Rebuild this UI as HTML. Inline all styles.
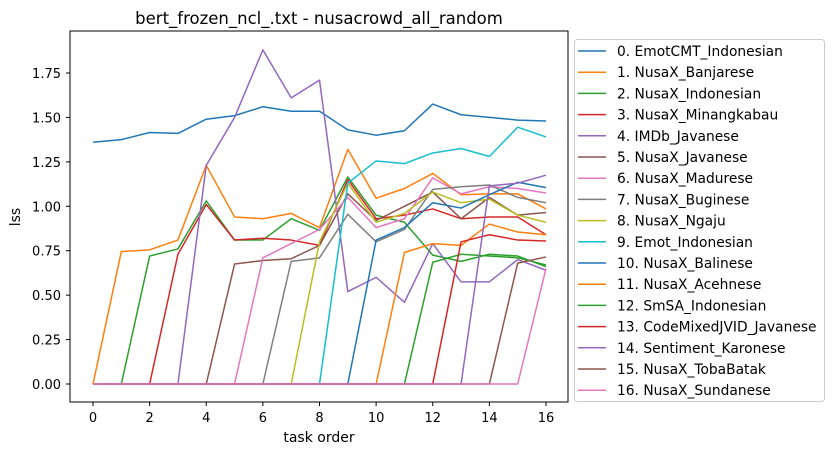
<!DOCTYPE html>
<html><head><meta charset="utf-8"><style>
body{margin:0;background:#fff;font-family:"DejaVu Sans","Liberation Sans",sans-serif;}
svg text{font-family:"DejaVu Sans","Liberation Sans",sans-serif;}
</style></head><body>
<svg id="chart" width="833" height="455">
<rect x="0" y="0" width="833" height="455" fill="#fff"/>
<g id="plot"></g>
</svg>
<script>
const taskOrder=[0,1,2,3,4,5,6,7,8,9,10,11,12,13,14,15,16];
const seriesNames=["0. EmotCMT_Indonesian","1. NusaX_Banjarese","2. NusaX_Indonesian","3. NusaX_Minangkabau","4. IMDb_Javanese","5. NusaX_Javanese","6. NusaX_Madurese","7. NusaX_Buginese","8. NusaX_Ngaju","9. Emot_Indonesian","10. NusaX_Balinese","11. NusaX_Acehnese","12. SmSA_Indonesian","13. CodeMixedJVID_Javanese","14. Sentiment_Karonese","15. NusaX_TobaBatak","16. NusaX_Sundanese"];
const s0=[1.36,1.375,1.415,1.41,1.49,1.51,1.56,1.535,1.535,1.43,1.40,1.425,1.575,1.515,1.50,1.485,1.48];
const s1=[0,0.745,0.755,0.81,1.23,0.94,0.93,0.96,0.88,1.32,1.045,1.10,1.185,1.065,1.07,1.07,0.985];
const s2=[0,0,0.72,0.76,1.03,0.81,0.81,0.93,0.865,1.165,0.95,0.91,0.725,0.69,0.73,0.72,0.66];
const s3=[0,0,0,0.73,1.01,0.81,0.82,0.81,0.78,1.15,0.93,0.95,0.985,0.93,0.94,0.94,0.84];
const s4=[0,0,0,0,1.23,1.5,1.88,1.61,1.71,0.52,0.60,0.46,0.79,0.575,0.575,0.70,0.64];
const s5=[0,0,0,0,0,0.675,0.695,0.705,0.78,1.07,0.92,1.0,1.08,0.93,1.05,0.95,0.965];
const s6=[0,0,0,0,0,0,0.71,0.79,0.87,1.05,0.88,0.93,1.16,1.07,1.11,1.10,1.075];
const s7=[0,0,0,0,0,0,0,0.69,0.71,0.955,0.80,0.87,1.095,1.11,1.12,1.05,1.02];
const s8=[0,0,0,0,0,0,0,0,0.80,1.13,0.91,0.96,1.08,1.02,1.04,0.95,0.91];
const s9=[0,0,0,0,0,0,0,0,0,1.13,1.255,1.24,1.30,1.325,1.28,1.445,1.39];
const s10=[0,0,0,0,0,0,0,0,0,0,0.81,0.88,1.02,0.99,1.065,1.135,1.105];
const s11=[0,0,0,0,0,0,0,0,0,0,0,0.74,0.79,0.78,0.90,0.855,0.84];
const s12=[0,0,0,0,0,0,0,0,0,0,0,0,0.685,0.73,0.72,0.71,0.67];
const s13=[0,0,0,0,0,0,0,0,0,0,0,0,0,0.80,0.84,0.81,0.805];
const s14=[0,0,0,0,0,0,0,0,0,0,0,0,0,0,1.115,1.13,1.175];
const s15=[0,0,0,0,0,0,0,0,0,0,0,0,0,0,0,0.68,0.715];
const s16=[0,0,0,0,0,0,0,0,0,0,0,0,0,0,0,0,0.65];
const xTicks=[0,2,4,6,8,10,12,14,16];
const yTicks=[0,0.25,0.5,0.75,1.0,1.25,1.5,1.75];
const allSeries=[s0,s1,s2,s3,s4,s5,s6,s7,s8,s9,s10,s11,s12,s13,s14,s15,s16];
const colors=["#1f77b4","#ff7f0e","#2ca02c","#d62728","#9467bd","#8c564b","#e377c2","#7f7f7f","#bcbd22","#17becf"];
const L=70,R=568,T=31,B=402;
function xs(v){return 93+v*(546-93)/16;}
function ys(v){return 384-v*(384-73)/1.75;}
const NS="http://www.w3.org/2000/svg";
const g=document.getElementById('plot');
function mk(tag,attrs,parent){const e=document.createElementNS(NS,tag);for(const k in attrs)e.setAttribute(k,attrs[k]);(parent||g).appendChild(e);return e;}
allSeries.forEach((s,i)=>{
  const p=mk('polyline',{points:s.map((v,j)=>xs(taskOrder[j])+','+ys(v)).join(' '),fill:'none',stroke:colors[i%10],'stroke-width':1.5,'stroke-linejoin':'round'});
  
  
});
const fr=mk('rect',{x:L,y:T,width:R-L,height:B-T,fill:'none',stroke:'#000','stroke-width':1});


xTicks.forEach(t=>{
  const x=xs(t);
  mk('line',{x1:x,x2:x,y1:B,y2:B+4,stroke:'#000'});
  const tx=mk('text',{x:x,y:B+20,'text-anchor':'middle','font-size':13});
  tx.textContent=t;
  
  
});
yTicks.forEach(t=>{
  const y=ys(t);
  mk('line',{x1:L-4,x2:L,y1:y,y2:y,stroke:'#000'});
  const tx=mk('text',{x:L-9,y:y+5,'text-anchor':'end','font-size':13});
  tx.textContent=t.toFixed(2);
  
  
});
const xt=mk('text',{x:319,y:442,'text-anchor':'middle','font-size':14});
xt.textContent='task order';


const yt=mk('text',{x:20,y:217,'text-anchor':'middle','font-size':14,transform:'rotate(-90 20 217)'});
yt.textContent='lss';


const ti=mk('text',{x:319,y:24,'text-anchor':'middle','font-size':16.5});
ti.textContent='bert_frozen_ncl_.txt - nusacrowd_all_random';


const lg=mk('rect',{x:574.5,y:39.5,width:250,height:362,rx:3,fill:'#fff',stroke:'#ccc'});


seriesNames.forEach((n,i)=>{
  const y=51+i*21.2;
  mk('line',{x1:578,x2:606,y1:y,y2:y,stroke:colors[i%10],'stroke-width':1.5});
  const tx=mk('text',{x:617,y:y+5,'font-size':13.8});
  tx.textContent=n;
  
  
});
</script>
</body></html>
